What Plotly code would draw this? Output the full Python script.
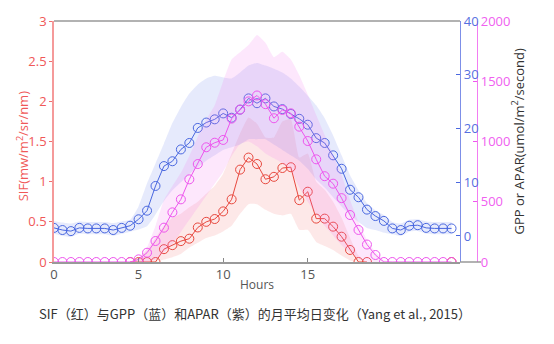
import plotly.graph_objects as go

hours = [0, 0.5, 1, 1.5, 2, 2.5, 3, 3.5, 4, 4.5, 5, 5.5, 6, 6.5, 7, 7.5, 8, 8.5, 9, 9.5,
         10, 10.5, 11, 11.5, 12, 12.5, 13, 13.5, 14, 14.5, 15, 15.5, 16, 16.5, 17, 17.5,
         18, 18.5, 19, 19.5, 20, 20.5, 21, 21.5, 22, 22.5, 23, 23.5]

gpp = [1.5, 1.1, 0.9, 1.5, 1.4, 1.4, 1.4, 1.1, 1.5, 1.9, 3.1, 4.7, 9.3, 13.0, 13.9, 16.1,
       17.3, 20.1, 21.1, 21.7, 22.8, 22.0, 23.5, 25.6, 24.7, 25.6, 24.1, 23.6, 22.7, 21.8,
       20.7, 18.2, 17.3, 15.0, 12.5, 8.6, 7.2, 4.9, 3.7, 2.8, 1.4, 1.1, 1.9, 2.0, 1.5, 1.4,
       1.4, 1.4]
gpp_hi = [2.8, 2.5, 2.3, 2.7, 2.6, 2.6, 2.6, 2.4, 2.7, 3.0, 5.5, 9.8, 13.5, 17.2, 21.0, 24.0,
          26.5, 28.2, 29.3, 29.8, 29.5, 29.3, 30.4, 31.7, 32.2, 31.7, 31.1, 30.4, 29.3, 27.8,
          26.1, 24.3, 21.9, 18.7, 15.0, 11.3, 8.5, 6.1, 4.8, 3.9, 2.6, 2.3, 3.0, 3.1, 2.7, 2.6,
          2.6, 2.6]
gpp_lo = [0.4, 0.0, -0.2, 0.4, 0.3, 0.3, 0.3, 0.0, 0.4, 0.8, 1.2, 1.8, 4.0, 6.5, 8.5, 10.0,
          11.5, 12.8, 14.0, 15.0, 16.0, 16.5, 17.0, 18.0, 18.0, 18.0, 17.0, 16.0, 15.0, 14.0,
          12.5, 10.5, 9.0, 7.2, 5.5, 3.9, 2.6, 1.5, 1.1, 0.6, 0.3, 0.0, 0.8, 0.9, 0.4, 0.3,
          0.3, 0.3]

apar = [0, 0, 0, 0, 0, 0, 0, 0, 0, 0, 22, 77, 174, 285, 412, 520, 686, 813, 952, 990,
        1013, 1190, 1265, 1333, 1382, 1310, 1193, 1262, 1234, 1123, 1004, 852, 712, 650,
        530, 390, 266, 145, 58, 0, 0, 0, 0, 0, 0, 0, 0, 0]
apar_hi = [0, 0, 0, 0, 0, 0, 0, 0, 0, 0, 30, 120, 300, 515, 630, 740, 880, 1040, 1180, 1300,
           1500, 1680, 1740, 1800, 1884, 1820, 1700, 1745, 1680, 1550, 1390, 1220, 1054, 888,
           722, 515, 332, 183, 83, 17, 0, 0, 0, 0, 0, 0, 0, 0]
apar_lo = [0, 0, 0, 0, 0, 0, 0, 0, 0, 0, 0, 0, 20, 80, 150, 250, 350, 450, 550, 650,
           750, 880, 980, 1000, 960, 900, 860, 820, 760, 620, 500, 400, 300, 220,
           140, 80, 30, 0, 0, 0, 0, 0, 0, 0, 0, 0, 0, 0]

sif = [None, None, None, None, None, None, None, None, None, 0, 0, 0, 0, 0.16, 0.21, 0.26,
       0.29, 0.43, 0.50, 0.535, 0.63, 0.78, 1.15, 1.30, 1.22, 1.03, 1.06, 1.17, 1.18, 0.77,
       0.875, 0.54, 0.54, 0.44, 0.315, 0.15, 0, 0, None, None, None, None, None, None, None,
       None, None, 0]
sif_hi = [0, 0, 0, 0, 0, 0, 0, 0, 0, 0, 0.05, 0.15, 0.3, 0.45, 0.55, 0.6, 0.68, 0.75, 0.85,
          0.95, 1.1, 1.35, 1.6, 1.8, 1.72, 1.55, 1.55, 1.75, 1.78, 1.3, 1.35, 1.0, 0.9, 0.75,
          0.55, 0.3, 0.08, 0, 0, 0, 0, 0, 0, 0, 0, 0, 0, 0]
sif_lo = [0, 0, 0, 0, 0, 0, 0, 0, 0, 0, 0, 0, 0, 0.03, 0.06, 0.1, 0.18, 0.24, 0.3, 0.33,
          0.38, 0.45, 0.6, 0.72, 0.72, 0.65, 0.6, 0.58, 0.6, 0.4, 0.4, 0.25, 0.2, 0.15, 0.08,
          0.02, 0, 0, 0, 0, 0, 0, 0, 0, 0, 0, 0, 0]

x_ticks = [0, 5, 10, 15]
sif_ticks = [0, 0.5, 1, 1.5, 2, 2.5, 3]
sif_tick_text = ["0", "0.5", "1", "1.5", "2", "2.5", "3"]
gpp_ticks = [0, 10, 20, 30, 40]
apar_ticks = [0, 500, 1000, 1500, 2000]

BLUE = "#4a68e0"
PINK = "#ee55ee"
RED = "#e8493f"
W, H = 554, 344
L, R, T, B = 54, 0, 21, 82
PW = W - L - R
XEND = (460 - L) / PW
APOS = (477 - L) / PW

fig = go.Figure()

def band(x, hi, lo, color, yaxis):
    fig.add_trace(go.Scatter(x=x, y=hi, mode="lines", line=dict(width=0, shape="spline", smoothing=0.4),
                             yaxis=yaxis, showlegend=False, hoverinfo="skip"))
    fig.add_trace(go.Scatter(x=x, y=lo, mode="lines", line=dict(width=0, shape="spline", smoothing=0.4),
                             fill="tonexty", fillcolor=color,
                             yaxis=yaxis, showlegend=False, hoverinfo="skip"))

band(hours, gpp_hi, gpp_lo, "rgba(90,115,235,0.15)", "y2")
band(hours, apar_hi, apar_lo, "rgba(245,110,240,0.17)", "y3")
band(hours, sif_hi, sif_lo, "rgba(245,110,110,0.16)", "y")

mk = lambda c: dict(symbol="circle-open", size=9, color=c, line=dict(width=1, color=c))
fig.add_trace(go.Scatter(x=hours, y=gpp, mode="lines+markers", line=dict(color=BLUE, width=1),
                         marker=mk(BLUE), yaxis="y2", showlegend=False))
fig.add_trace(go.Scatter(x=hours, y=apar, mode="lines+markers", line=dict(color=PINK, width=1),
                         marker=mk(PINK), yaxis="y3", showlegend=False))
fig.add_trace(go.Scatter(x=hours, y=sif, mode="lines+markers", line=dict(color=RED, width=1),
                         marker=mk(RED), yaxis="y", showlegend=False, connectgaps=False))

tickfont = dict(family="Open Sans, sans-serif", size=13)

fig.update_layout(
    width=W, height=H,
    margin=dict(l=L, r=R, t=T, b=B),
    paper_bgcolor="white", plot_bgcolor="white",
    font=dict(family="Open Sans, sans-serif"),
    xaxis=dict(domain=[0, XEND], range=[0, 24], tickvals=x_ticks, ticks="inside", ticklen=4,
               tickcolor="#888", showline=True, linecolor="#999", linewidth=1.5,
               showgrid=False, zeroline=False, tickfont=dict(tickfont, color="#555")),
    yaxis=dict(range=[0, 3], tickvals=sif_ticks, ticktext=sif_tick_text, ticks="outside",
               ticklen=3, tickcolor="#f07070", showline=True, linecolor="#f59a9a", linewidth=1.5,
               showgrid=False, zeroline=False, tickfont=dict(tickfont, color="#f05858")),
    yaxis2=dict(range=[-4.85, 40], tickvals=gpp_ticks, overlaying="y", anchor="free",
                position=XEND, side="right", ticks="inside", ticklen=4, tickcolor=BLUE,
                showline=True, linecolor="#7d8fe8", linewidth=1.3, showgrid=False,
                zeroline=False, tickfont=dict(tickfont, color="#5670e0")),
    yaxis3=dict(range=[0, 2000], tickvals=apar_ticks, overlaying="y", anchor="free",
                position=APOS, side="right", ticks="inside", ticklen=4, tickcolor=PINK,
                showline=True, linecolor="#f27df2", linewidth=1.3, showgrid=False,
                zeroline=False, tickfont=dict(tickfont, color="#f060f0")),
    shapes=[
        dict(type="line", xref="paper", yref="paper", x0=0, x1=XEND, y0=1, y1=1,
             line=dict(color="#999", width=1.5)),
        dict(type="line", xref="paper", yref="paper", x0=XEND, x1=(481 - L) / PW, y0=0, y1=0,
             line=dict(color="#999", width=1.5)),
    ],
    annotations=[
        dict(text="Hours", xref="paper", yref="paper", x=XEND / 2, y=(262 - 284) / 241,
             showarrow=False, font=dict(size=12, color="#555"), xanchor="center", yanchor="middle"),
        dict(text="SIF(mw/m<sup>2</sup>/sr/nm)", xref="paper", yref="paper",
             x=(22 - L) / PW, y=0.48, textangle=-90, showarrow=False,
             font=dict(size=13, color="#f05858"), xanchor="center", yanchor="middle"),
        dict(text="GPP or APAR(umol/m<sup>2</sup>/second)", xref="paper", yref="paper",
             x=(518 - L) / PW, y=0.5, textangle=-90, showarrow=False,
             font=dict(size=13, color="#333"), xanchor="center", yanchor="middle"),
        dict(text="SIF（红）与GPP（蓝）和APAR（紫）的月平均日变化（Yang et al., 2015）",
             xref="paper", yref="paper", x=(255 - L) / PW, y=(262 - 313) / 241,
             showarrow=False, xanchor="center", yanchor="middle",
             font=dict(family="Noto Sans CJK SC, sans-serif", size=13, color="#333")),
    ],
)

fig.write_html("out.html")
